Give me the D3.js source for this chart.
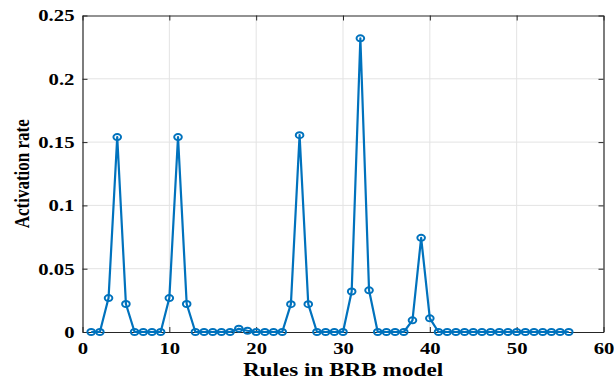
<!DOCTYPE html>
<html>
<head>
<meta charset="utf-8">
<script src="https://cdn.jsdelivr.net/npm/d3@7"></script>
<style>
  body { margin: 0; background: #fff; }
  text { font-family: "Liberation Serif", "Times New Roman", serif; font-weight: bold; }
</style>
</head>
<body>
<div id="chart"></div>
<script>
// rule index 1..56 and its activation rate
const rules = d3.range(1, 57);
const rates = [
  0, 0, 0.0268, 0.154, 0.0221, 0, 0, 0, 0, 0.0268,
  0.154, 0.0221, 0, 0, 0, 0, 0, 0.0026, 0.001, 0,
  0, 0, 0, 0.022, 0.1555, 0.022, 0, 0, 0, 0,
  0.032, 0.232, 0.0329, 0, 0, 0, 0, 0.0092, 0.0744, 0.0108,
  0, 0, 0, 0, 0, 0, 0, 0, 0, 0,
  0, 0, 0, 0, 0, 0
];
const xTicks = [0, 10, 20, 30, 40, 50, 60];
const yTicks = [0, 0.05, 0.1, 0.15, 0.2, 0.25];

const width = 614, height = 382;
const margin = { top: 15.5, right: 10.5, bottom: 50, left: 82.5 };
const sx = 1.22; // the picture is stretched sideways

const svg = d3.select('#chart').append('svg').attr('width', width).attr('height', height);

const x = d3.scaleLinear().domain([0, 60]).range([margin.left, width - margin.right]);
const y = d3.scaleLinear().domain([0, 0.25]).range([height - margin.bottom, margin.top]);

// grid
const grid = svg.append('g').attr('stroke', '#e3e3e3').attr('stroke-width', 1);
grid.selectAll('.gx').data(xTicks.slice(1, -1)).enter().append('line')
  .attr('x1', d => x(d)).attr('x2', d => x(d))
  .attr('y1', y(0)).attr('y2', y(0.25));
grid.selectAll('.gy').data(yTicks.slice(1, -1)).enter().append('line')
  .attr('x1', x(0)).attr('x2', x(60))
  .attr('y1', d => y(d)).attr('y2', d => y(d));

// axes, MATLAB style: ticks pointing in, box on
const fmt = d => d === 0 ? '0' : String(+d.toFixed(2));
const tk = 5;
const axB = svg.append('g').attr('transform', `translate(0,${y(0)})`)
  .call(d3.axisBottom(x).tickValues(xTicks).tickSizeInner(-tk).tickSizeOuter(0).tickPadding(10).tickFormat(fmt));
const axT = svg.append('g').attr('transform', `translate(0,${y(0.25)})`)
  .call(d3.axisTop(x).tickValues(xTicks).tickSizeInner(-tk).tickSizeOuter(0).tickFormat(''));
const axL = svg.append('g').attr('transform', `translate(${x(0)},0)`)
  .call(d3.axisLeft(y).tickValues(yTicks).tickSizeInner(-tk).tickSizeOuter(0).tickPadding(7).tickFormat(fmt));
const axR = svg.append('g').attr('transform', `translate(${x(60)},0)`)
  .call(d3.axisRight(y).tickValues(yTicks).tickSizeInner(-tk).tickSizeOuter(0).tickFormat(''));

[axB, axT, axL, axR].forEach(a => {
  a.attr('font-family', '"Liberation Serif", serif').attr('font-weight', 'bold');
  a.select('.domain').attr('stroke', '#262626').attr('stroke-width', 1.2);
  a.selectAll('.tick line').attr('stroke', '#262626').attr('stroke-width', 1);
});
axB.selectAll('.tick text')
  .attr('font-size', 17).attr('fill', '#000')
  .attr('transform', `scale(${sx},1)`);
axL.selectAll('.tick text')
  .attr('font-size', 17).attr('fill', '#000')
  .attr('x', -8 / sx)
  .attr('transform', `scale(${sx},1)`);

// line + circle markers
const line = d3.line().x((d, i) => x(rules[i])).y(d => y(d));
svg.append('path').datum(rates)
  .attr('fill', 'none').attr('stroke', '#0072BD').attr('stroke-width', 2.2)
  .attr('stroke-linejoin', 'round')
  .attr('d', line);

svg.append('g').selectAll('ellipse').data(rates).enter().append('ellipse')
  .attr('cx', (d, i) => x(rules[i]))
  .attr('cy', d => y(d))
  .attr('rx', 3.8).attr('ry', 3)
  .attr('fill', 'none').attr('stroke', '#0072BD').attr('stroke-width', 2);

// axis titles
svg.append('text')
  .attr('transform', `translate(${x(30)},376) scale(${sx},1)`)
  .attr('text-anchor', 'middle').attr('font-size', 19).attr('fill', '#000')
  .text('Rules in BRB model');

svg.append('text')
  .attr('transform', `translate(29,${y(0.125)}) scale(${sx},1) rotate(-90)`)
  .attr('text-anchor', 'middle').attr('font-size', 17).attr('fill', '#000')
  .text('Activation rate');
</script>
</body>
</html>
